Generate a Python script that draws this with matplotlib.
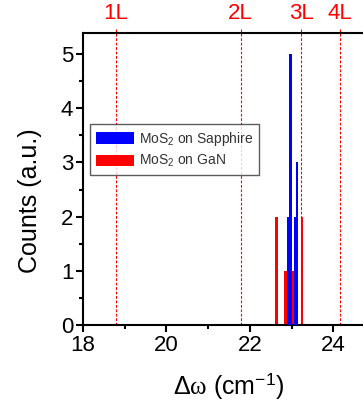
import matplotlib
matplotlib.use("Agg")
import matplotlib.pyplot as plt
from matplotlib.ticker import MultipleLocator
from matplotlib.patches import Patch

plt.rcParams['font.family'] = ['Liberation Sans', 'DejaVu Sans']
plt.rcParams['mathtext.fontset'] = 'custom'
plt.rcParams['mathtext.rm'] = 'Liberation Sans'
plt.rcParams['mathtext.it'] = 'Liberation Serif'

# Data
sapphire_x = [22.92, 22.97, 23.085, 23.135]
sapphire_counts = [2, 5, 2, 3]
gan_x = [22.635, 22.85, 23.03, 23.25]
gan_counts = [2, 1, 1, 2]
layer_labels = ['1L', '2L', '3L', '4L']
layer_pos = [18.79, 21.78, 23.23, 24.15]
bar_width = 0.06

fig = plt.figure(figsize=(3.63, 4.04), dpi=100)
ax = fig.add_axes([83/363, 79/404, 292/363, 292/404])

ax.bar(gan_x, gan_counts, width=bar_width, color='#ff0000', edgecolor='none', zorder=2)
ax.bar(sapphire_x, sapphire_counts, width=bar_width, color='#0000ff', edgecolor='none', zorder=3)

for lab, p in zip(layer_labels, layer_pos):
    ax.axvline(p, ymin=0, ymax=1.015, color='#ff0000', lw=0.8, ls=(0, (2.5, 1.5)),
               clip_on=False, zorder=1)
    ax.text(p, 1.03, lab, transform=ax.get_xaxis_transform(), color='#ff0000',
            fontsize=16, ha='center', va='bottom')

ax.set_xlim(18, 25)
ax.set_ylim(0, 5.39)
ax.xaxis.set_major_locator(MultipleLocator(2))
ax.xaxis.set_minor_locator(MultipleLocator(1))
ax.yaxis.set_major_locator(MultipleLocator(1))
ax.yaxis.set_minor_locator(MultipleLocator(0.5))
ax.tick_params(which='major', direction='out', length=5, width=1.5, labelsize=16, pad=2)
ax.tick_params(which='minor', direction='out', length=3, width=1.5)
for s in ax.spines.values():
    s.set_linewidth(1.5)

ax.set_xlabel(r'$\Delta\omega$ (cm$^{-1}$)', fontsize=18, labelpad=11)
ax.set_ylabel('Counts (a.u.)', fontsize=18)
ax.yaxis.set_label_coords(-0.14, 0.425)

handles = [Patch(facecolor='#0000ff', edgecolor='none'), Patch(facecolor='#ff0000', edgecolor='none')]
leg = ax.legend(handles, [r'MoS$_2$ on Sapphire', r'MoS$_2$ on GaN'],
                loc='upper left', bbox_to_anchor=(7/292, 1 - (124-33)/292),
                fontsize=10, frameon=True, fancybox=False, handlelength=2.8, handleheight=0.9,
                borderpad=0.4, labelspacing=0.4, handletextpad=0.35, borderaxespad=0)
leg.get_frame().set_edgecolor('#333333')
leg.get_frame().set_linewidth(1.0)
for t in leg.get_texts():
    t.set_color('#333333')

fig.savefig('out.png', dpi=100)
